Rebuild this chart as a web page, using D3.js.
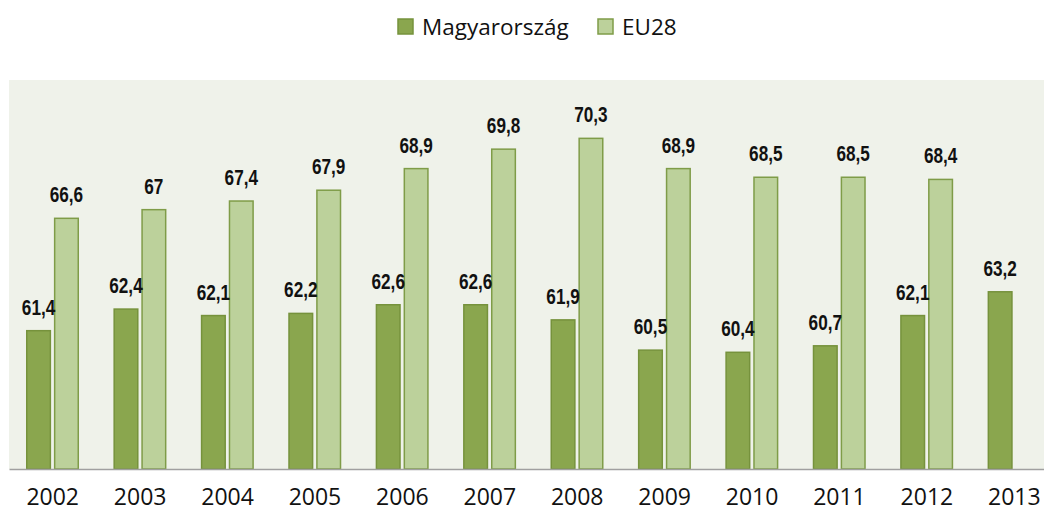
<!DOCTYPE html>
<html>
<head>
<meta charset="utf-8">
<script src="https://cdn.jsdelivr.net/npm/d3@7"></script>
<style>
  body { margin: 0; background: #fff; }
  svg { display: block; }
</style>
</head>
<body>
<svg id="chart"></svg>
<script>
var years = ['2002','2003','2004','2005','2006','2007','2008','2009','2010','2011','2012','2013'];
var huValues = [61.4, 62.4, 62.1, 62.2, 62.6, 62.6, 61.9, 60.5, 60.4, 60.7, 62.1, 63.2];
var euValues = [66.6, 67, 67.4, 67.9, 68.9, 69.8, 70.3, 68.9, 68.5, 68.5, 68.4, null];
var seriesNames = ['Magyarország', 'EU28'];

var W = 1044, H = 513;
var plot = {left: 9, top: 80, right: 1058, bottom: 469};

var svg = d3.select("#chart").attr("width", W).attr("height", H);

// background of plot area
svg.append("rect")
    .attr("x", plot.left).attr("y", plot.top)
    .attr("width", plot.right - plot.left).attr("height", plot.bottom - plot.top)
    .attr("fill", "#eff2ea");

var x = d3.scaleBand().domain(years).range([plot.left, plot.right]).padding(0);
var inner = d3.scaleBand().domain(seriesNames).range([17/87.4 * x.bandwidth(), (1 - 17.4/87.4) * x.bandwidth()]).paddingInner(0.1);
var y = d3.scaleLinear().domain([55, 73]).range([plot.bottom, plot.top]);

var fills = {'Magyarország': '#8aa64e', 'EU28': '#bcd19b'};
var strokes = {'Magyarország': '#76923c', 'EU28': '#7f9c48'};

var rows = [];
years.forEach(function(yr, i) {
    rows.push({year: yr, s: 'Magyarország', v: huValues[i]});
    if (euValues[i] != null) rows.push({year: yr, s: 'EU28', v: euValues[i]});
});

svg.selectAll("rect.bar")
    .data(rows)
    .join("rect")
    .attr("class", "bar")
    .attr("x", function(d) { return x(d.year) + inner(d.s) + 0.75; })
    .attr("width", inner.bandwidth() - 1.5)
    .attr("y", function(d) { return y(d.v); })
    .attr("height", function(d) { return plot.bottom - y(d.v); })
    .attr("fill", function(d) { return fills[d.s]; })
    .attr("stroke", function(d) { return strokes[d.s]; })
    .attr("stroke-width", 1.5);

// value labels, squeezed horizontally to look like a narrow bold face
svg.selectAll("text.val")
    .data(rows)
    .join("text")
    .attr("class", "val")
    .attr("transform", function(d) {
        var cx = x(d.year) + inner(d.s) + inner.bandwidth() / 2;
        return "translate(" + cx + "," + (y(d.v) - 16) + ") scale(0.78,1)";
    })
    .attr("text-anchor", "middle")
    .style("font-family", "'Liberation Sans', Arial, sans-serif")
    .style("font-weight", "bold")
    .style("font-size", "22px")
    .attr("fill", "#111")
    .text(function(d) { return String(d.v).replace('.', ','); });

// baseline axis
var axis = svg.append("g")
    .attr("transform", "translate(0," + plot.bottom + ")")
    .call(d3.axisBottom(x).tickSize(0).tickPadding(20));
axis.select(".domain").attr("stroke", "#a0a0a0").attr("stroke-width", 1.5);
axis.selectAll("text")
    .style("font-family", "'Open Sans', sans-serif")
    .style("font-size", "23px")
    .attr("fill", "#111");

// legend
var legendItems = [
    {name: 'Magyarország', x: 398},
    {name: 'EU28', x: 598}
];
var lg = svg.append("g");
lg.selectAll("rect")
    .data(legendItems)
    .join("rect")
    .attr("x", function(d) { return d.x; })
    .attr("y", 19)
    .attr("width", 15).attr("height", 15)
    .attr("fill", function(d) { return fills[d.name]; })
    .attr("stroke", function(d) { return strokes[d.name]; })
    .attr("stroke-width", 1.5);
lg.selectAll("text")
    .data(legendItems)
    .join("text")
    .attr("x", function(d) { return d.x + 24; })
    .attr("y", 35)
    .style("font-family", "'Open Sans', sans-serif")
    .style("font-size", "22.5px")
    .attr("fill", "#111")
    .text(function(d) { return d.name; });
</script>
</body>
</html>
